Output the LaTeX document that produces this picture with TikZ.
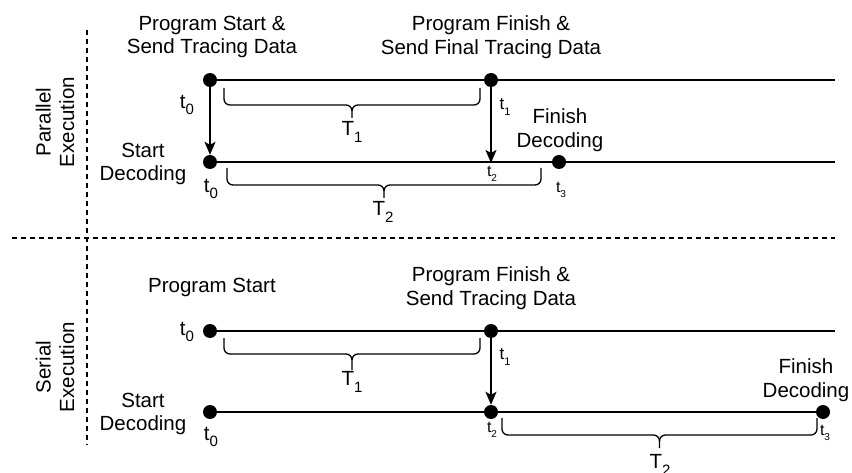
\documentclass[tikz,border=0pt]{standalone}
\usepackage{fontspec}
\setmainfont{Liberation Sans}
\usetikzlibrary{arrows.meta}

% letter with a lowered index: size, letter, index, index size
\newcommand\idx[4]{{\fontsize{#1}{#1}\selectfont #2\raisebox{-0.3em}{\fontsize{#4}{#4}\selectfont #3}}}

% curly brace under a timeline: x-left, x-right, y-top, y-bar, y-tip
\newcommand\curly[5]{%
  \pgfmathsetmacro\bxm{(#1+#2)/2}%
  \draw[brc] (#1,#3) -- ({#1},{#4-6}) to[out=-90,in=180] ({#1+6},{#4})
    -- ({\bxm-6},{#4}) to[out=0,in=90] ({\bxm},{#4+6}) -- ({\bxm},{#5});
  \draw[brc] ({\bxm},{#4+6}) to[out=90,in=180] ({\bxm+6},{#4})
    -- ({#2-6},{#4}) to[out=0,in=-90] ({#2},{#4-6}) -- (#2,#3);
}

\tikzset{
  lbl/.style={font=\fontsize{20.5}{23.5}\selectfont, align=center, inner sep=0pt},
  tk/.style={inner sep=0pt},
  dot/.style={circle, fill=black, minimum size=14pt, inner sep=0pt},
  tline/.style={line width=1.6pt},
  arr/.style={line width=1.6pt, -{Stealth[length=13pt,width=11pt,inset=3pt]}},
  brc/.style={line width=1.3pt},
  sep/.style={line width=1.3pt, dash pattern=on 5pt off 4pt},
}

\begin{document}
\begin{tikzpicture}[x=1pt,y=-1pt]
\useasboundingbox (0,0) rectangle (852,473);

% section separators
\coordinate (vTop) at (87,30);
\coordinate (vBot) at (87,445);
\coordinate (hL) at (12,238);
\coordinate (hR) at (835,238);
\draw[sep] (vTop) -- (vBot);
\draw[sep] (hL) -- (hR);

% ---------------- parallel execution ----------------
\node[lbl, rotate=90] (parTitle) at (55,122) {Parallel\\Execution};

\node[dot] (pA) at (210,80) {};
\node[dot] (pB) at (491,80) {};
\coordinate (pAend) at (835,80);
\node[dot] (pC) at (210,162) {};
\coordinate (pD) at (491,162);
\node[dot] (pE) at (559,162) {};
\coordinate (pCend) at (835,162);

\draw[tline] (pA) -- (pB) -- (pAend);
\draw[tline] (pC) -- (pE) -- (pCend);
\draw[arr] (pA) -- (pC);
\draw[arr] (pB) -- ([yshift=-1pt]pD);

\node[lbl] (pStart) at (212,37) {Program Start \&\\Send Tracing Data};
\node[lbl] (pFinish) at (491,37) {Program Finish \&\\Send Final Tracing Data};
\node[lbl] (pDecS) at (143,164) {Start\\Decoding};
\node[lbl] (pDecF) at (560,130) {Finish\\Decoding};

\node[tk] (pt0a) at (187,105) {\idx{20.5}{t}{0}{15}};
\node[tk] (pt0b) at (211,189) {\idx{20.5}{t}{0}{15}};
\node[tk] (pt1) at (505,107) {\idx{17}{t}{1}{11}};
\node[tk] (pt2) at (492,174) {\idx{16}{t}{2}{10}};
\node[tk] (pt3) at (561,190) {\idx{16}{t}{3}{10}};

\curly{224}{480}{88}{105}{118}
\node[tk] (pT1) at (352,132) {\idx{20.5}{T}{1}{15}};
\curly{227}{541}{168}{185}{198}
\node[tk] (pT2) at (383,212) {\idx{20.5}{T}{2}{15}};

% ---------------- serial execution ----------------
\node[lbl, rotate=90] (serTitle) at (55,367) {Serial\\Execution};

\node[dot] (sA) at (210,331) {};
\node[dot] (sB) at (491,331) {};
\coordinate (sAend) at (835,331);
\node[dot] (sC) at (210,412) {};
\node[dot] (sD) at (491,412) {};
\node[dot] (sE) at (823,412) {};

\draw[tline] (sA) -- (sB) -- (sAend);
\draw[tline] (sC) -- (sD) -- (sE);
\draw[arr] (sB) -- (sD);

\node[lbl] (sStart) at (212,287) {Program Start};
\node[lbl] (sFinish) at (491,288) {Program Finish \&\\Send Tracing Data};
\node[lbl] (sDecS) at (143,414) {Start\\Decoding};
\node[lbl] (sDecF) at (806,380) {Finish\\Decoding};

\node[tk] (st0a) at (187,332) {\idx{20.5}{t}{0}{15}};
\node[tk] (st0b) at (211,437) {\idx{20.5}{t}{0}{15}};
\node[tk] (st1) at (505,357) {\idx{17}{t}{1}{11}};
\node[tk] (st2) at (492,430) {\idx{16}{t}{2}{10}};
\node[tk] (st3) at (825,433) {\idx{16}{t}{3}{10}};

\curly{224}{480}{338}{354}{370}
\node[tk] (sT1) at (352,382) {\idx{20.5}{T}{1}{15}};
\curly{502}{817}{418}{435}{448}
\node[tk] (sT2) at (660,465) {\idx{20.5}{T}{2}{15}};
\end{tikzpicture}
\end{document}
